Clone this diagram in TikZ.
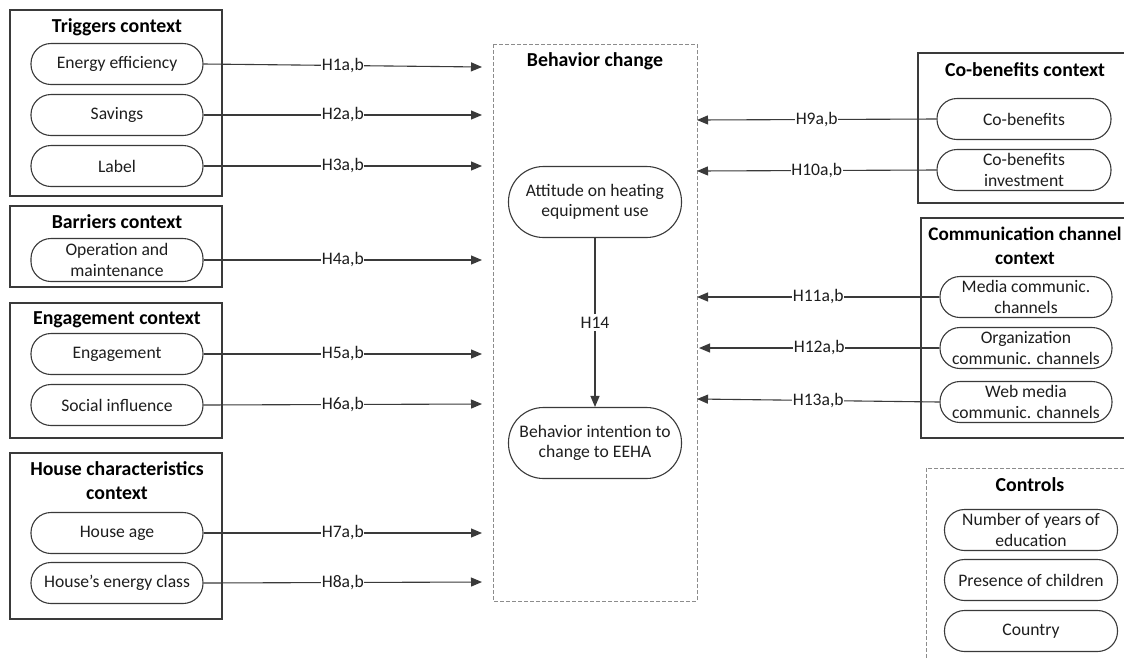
\documentclass[tikz,border=0pt]{standalone}
\usepackage{fontspec}
\setmainfont{Carlito}
\usetikzlibrary{arrows.meta}
\definecolor{linegray}{HTML}{3A3A3A}
\definecolor{dashgray}{HTML}{8C8C8C}
\definecolor{textc}{HTML}{1E1E1E}
\begin{document}
\begin{tikzpicture}[x=1pt,y=-1pt,
  pill/.style={draw=linegray, line width=1.1pt, rounded corners=20pt, minimum width=172pt, minimum height=41pt, inner sep=0pt, align=center, font=\fontsize{17.6}{20.5}\selectfont, text=textc},
  bigpill/.style={pill, minimum width=173pt, minimum height=71pt, rounded corners=35pt},
  ctx/.style={draw=linegray, line width=1.1pt},
  dbox/.style={draw=dashgray, line width=1pt, dash pattern=on 4pt off 2pt},
  ttl/.style={font=\fontsize{19.8}{24}\selectfont\bfseries, text=black, align=center, inner sep=0pt},
  hlabel/.style={fill=white, inner sep=0.6pt, font=\fontsize{17.6}{20}\selectfont, text=textc},
  arr/.style={draw=linegray, line width=1.1pt, -{Triangle[length=11pt,width=9pt]}},
]
\useasboundingbox (0,0) rectangle (1124,657);
\fill[white] (0,0) rectangle (1124,657);
\clip (0,0) rectangle (1124,657);

% ---- left context boxes
\draw[ctx] (10,10) rectangle (222,196);
\node[ttl] (t1) at (117,27) {Triggers context};
\node[pill] (ee) at (117,64) {Energy efficiency};
\node[pill] (sav) at (117,115) {Savings};
\node[pill] (lab) at (117,166) {Label};

\draw[ctx] (10,206) rectangle (222,287);
\node[ttl] (t2) at (117,222) {Barriers context};
\node[pill, minimum height=43pt] (om) at (117,260) {Operation and\\maintenance};

\draw[ctx] (10,303) rectangle (222,438);
\node[ttl] (t3) at (117,320) {Engagement context};
\node[pill] (eng) at (117,354) {Engagement};
\node[pill] (soc) at (117,405) {Social influence};

\draw[ctx] (10,453) rectangle (222,619);
\node[ttl] (t4) at (117,481) {House characteristics\\context};
\node[pill] (ha) at (117,533) {House age};
\node[pill] (hec) at (117,583) {House’s energy class};

% ---- behavior change box
\draw[dbox] (493,44) rectangle (697,601);
\node[ttl] (t5) at (595,61) {Behavior change};
\node[bigpill] (att) at (595,202) {Attitude on heating\\equipment use};
\node[bigpill] (bi) at (595,443) {Behavior intention to\\change to EEHA};

% ---- right context boxes
\draw[ctx] (918,53) rectangle (1140,203);
\node[ttl] (t6) at (1025,70) {Co-benefits context};
\node[pill, minimum width=174pt] (cb) at (1024,119) {Co-benefits};
\node[pill, minimum width=174pt] (cbi) at (1024,170) {Co-benefits\\investment};

\draw[ctx] (921,218) rectangle (1140,438);
\node[ttl, font=\fontsize{19.2}{23.5}\selectfont\bfseries] (t7) at (1025,246) {Communication channel\\context};
\node[pill] (med) at (1026,297) {Media communic.\\channels};
\node[pill] (org) at (1026,348) {Organization\\communic. channels};
\node[pill] (web) at (1026,402) {Web media\\communic. channels};

\draw[dbox] (926,468) rectangle (1140,680);
\node[ttl] (t8) at (1030,485) {Controls};
\node[pill, minimum width=173pt] (nye) at (1031,530) {Number of years of\\education};
\node[pill, minimum width=173pt] (poc) at (1031,580) {Presence of children};
\node[pill, minimum width=173pt] (cty) at (1031,631) {Country};

% ---- arrow endpoints
\coordinate (a1) at (482,67);
\coordinate (a2) at (482,115);
\coordinate (a3) at (482,166);
\coordinate (a4) at (482,260);
\coordinate (a5) at (482,354);
\coordinate (a6) at (482,404);
\coordinate (a7) at (482,533);
\coordinate (a8) at (482,582);
\coordinate (a9) at (697,120);
\coordinate (a10) at (697,171);
\coordinate (a11) at (697,297);
\coordinate (a12) at (699,348);
\coordinate (a13) at (697,399);

% ---- arrows
\draw[arr] (ee.east) -- node[hlabel]{H1a,b} (a1);
\draw[arr] (sav.east) -- node[hlabel]{H2a,b} (a2);
\draw[arr] (lab.east) -- node[hlabel]{H3a,b} (a3);
\draw[arr] (om.east) -- node[hlabel]{H4a,b} (a4);
\draw[arr] (eng.east) -- node[hlabel]{H5a,b} (a5);
\draw[arr] (soc.east) -- node[hlabel]{H6a,b} (a6);
\draw[arr] (ha.east) -- node[hlabel]{H7a,b} (a7);
\draw[arr] (hec.east) -- node[hlabel]{H8a,b} (a8);
\draw[arr] (cb.west) -- node[hlabel]{H9a,b} (a9);
\draw[arr] (cbi.west) -- node[hlabel]{H10a,b} (a10);
\draw[arr] (med.west) -- node[hlabel]{H11a,b} (a11);
\draw[arr] (org.west) -- node[hlabel]{H12a,b} (a12);
\draw[arr] (web.west) -- node[hlabel]{H13a,b} (a13);
\draw[arr] (att.south) -- node[hlabel, pos=0.5, inner sep=3pt]{H14} (bi.north);
\end{tikzpicture}
\end{document}
